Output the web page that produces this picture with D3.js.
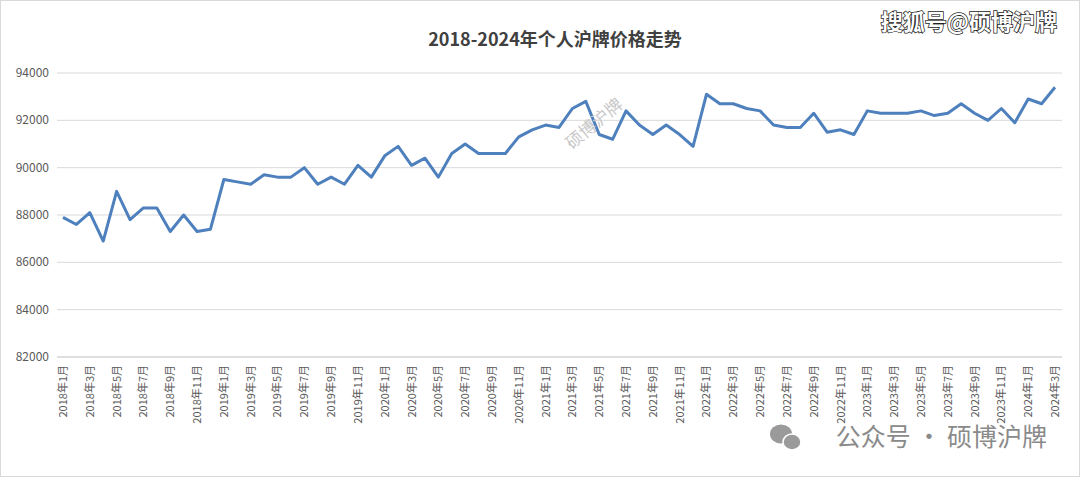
<!DOCTYPE html>
<html><head><meta charset="utf-8">
<script src="https://cdn.jsdelivr.net/npm/d3@7"></script>
<style>body{margin:0;background:#fff;font-family:"Noto Sans CJK SC","Noto Sans",sans-serif}</style>
</head><body><svg id="c" width="1080" height="477"></svg>
<script>
const startYear = 2018;
const values = [
87900,87600,88100,86900,89000,87800,88300,88300,87300,88000,87300,87400,
89500,89400,89300,89700,89600,89600,90000,89300,89600,89300,90100,89600,
90500,90900,90100,90400,89600,90600,91000,90600,90600,90600,91300,91600,
91800,91700,92500,92800,91400,91200,92400,91800,91400,91800,91400,90900,
93100,92700,92700,92500,92400,91800,91700,91700,92300,91500,91600,91400,
92400,92300,92300,92300,92400,92200,92300,92700,92300,92000,92500,91900,
92900,92700,93400];
const months = values.map((v,i)=>`${startYear+Math.floor(i/12)}年${i%12+1}月`);
const yTicks = [82000,84000,86000,88000,90000,92000,94000];

const svg = d3.select("#c");
svg.append("rect").attr("x",0.5).attr("y",0.5).attr("width",1079).attr("height",476).attr("fill","#fff").attr("stroke","#d9d9d9");
const L=57,R=1062,T=73,B=357;
const x = d3.scalePoint().domain(months).range([L+6,R-7]);
const y = d3.scaleLinear().domain([82000,94000]).range([B,T]);

svg.append("g").selectAll("line").data(yTicks).join("line")
 .attr("x1",L).attr("x2",R).attr("y1",d=>y(d)).attr("y2",d=>y(d))
 .attr("stroke",d=>d===82000?"#bfbfbf":"#d9d9d9");
svg.append("g").selectAll("text").data(yTicks).join("text")
 .attr("x",L-8).attr("y",d=>y(d)+4).attr("text-anchor","end")
 .attr("font-size",12).attr("fill","#595959").text(d=>d);

svg.append("g").selectAll("text").data(months.filter((m,i)=>i%2===0)).join("text")
 .attr("transform",d=>`translate(${x(d)+4},${B+8}) rotate(-90)`)
 .attr("text-anchor","end").attr("font-size",11).attr("fill","#595959").text(d=>d);

svg.append("path").datum(values).attr("fill","none").attr("stroke","#4e80bd").attr("stroke-width",3)
 .attr("stroke-linejoin","round")
 .attr("d",d3.line().x((d,i)=>x(months[i])).y(d=>y(d)));

svg.append("text").attr("x",555).attr("y",46).attr("text-anchor","middle")
 .attr("font-size",18).attr("font-weight","bold").attr("fill","#404040").text("2018-2024年个人沪牌价格走势");

svg.append("text").attr("x",1057).attr("y",30).attr("text-anchor","end").attr("font-size",22).attr("font-weight","bold")
 .attr("fill","#fff").attr("stroke","#222").attr("stroke-width",1.5).attr("paint-order","stroke").text("搜狐号@硕博沪牌");
svg.append("text").attr("x",572).attr("y",150).attr("font-size",17).attr("fill","#c8c8c8")
 .attr("transform","rotate(-40,572,150)").text("硕博沪牌");
svg.append("text").attr("x",1047).attr("y",446).attr("text-anchor","end").attr("font-size",25)
 .attr("fill","#8a8a8a").text("公众号 · 硕博沪牌");
const g = svg.append("g").attr("transform","translate(770,423)");
g.append("ellipse").attr("cx",11).attr("cy",11).attr("rx",11).attr("ry",9.5).attr("fill","#9a9a9a");
g.append("ellipse").attr("cx",22).attr("cy",19).attr("rx",9).attr("ry",8).attr("fill","#9a9a9a").attr("stroke","#fff").attr("stroke-width",1.5);
</script></body></html>
